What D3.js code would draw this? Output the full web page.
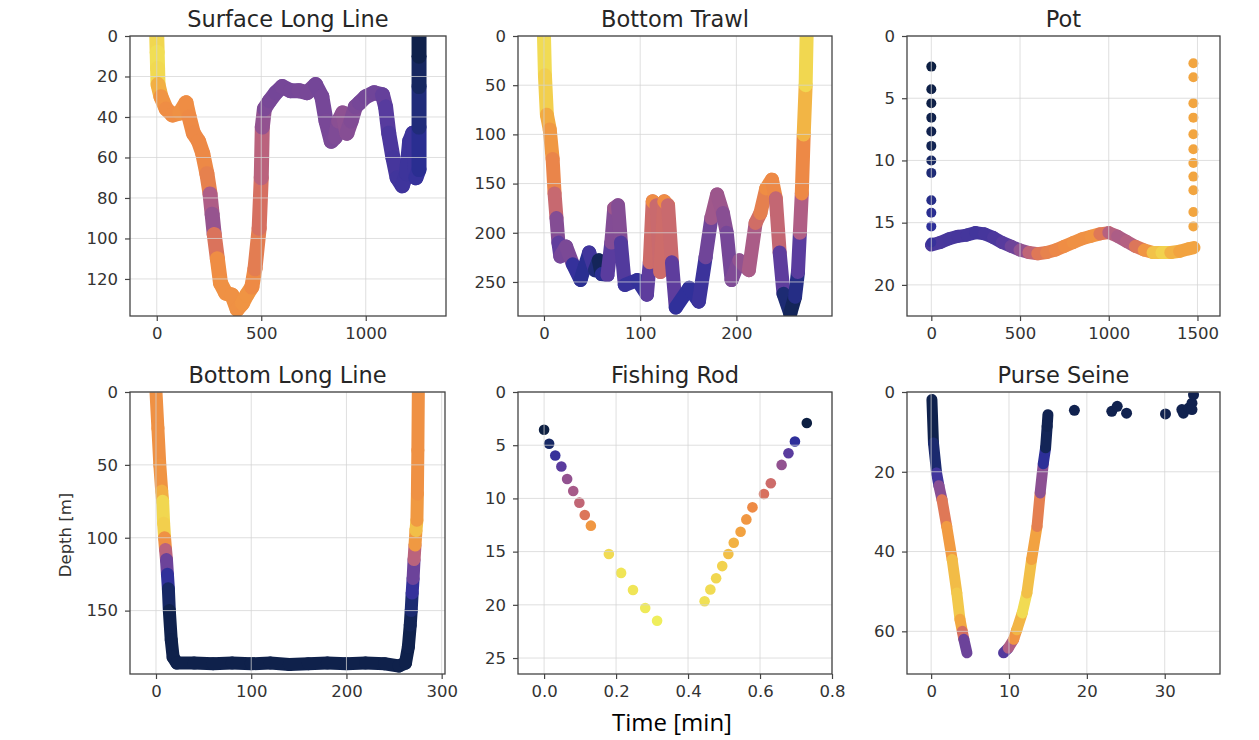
<!DOCTYPE html>
<html>
<head>
<meta charset="utf-8">
<script src="https://cdn.jsdelivr.net/npm/d3@7"></script>
<style>
  body { margin: 0; background: #fff; }
  svg { display: block; }
  .tick text { font-family: "DejaVu Sans", sans-serif; fill: #333; }
</style>
</head>
<body>
<svg id="fig" width="1259" height="740"></svg>
<script>
// ---- data: [time, depth, colour value 0..1] ----

// Surface Long Line
var sllTime  = [0, 2, 4, 6, 20, 45, 75, 110, 140, 155, 175, 200, 220, 240, 255, 265, 275, 290, 305, 330, 360, 385, 410, 430, 455, 470, 490, 500, 505, 515, 540, 570, 600, 640, 680, 720, 760, 790, 810, 835, 855, 870, 890, 910, 930, 950, 970, 1000, 1040, 1080, 1095, 1110, 1130, 1150, 1175, 1195, 1210, 1225, 1240, 1255, 1255, 1255, 1255, 1255];
var sllDepth = [0, 8, 16, 24, 30, 36, 39, 38, 33, 40, 48, 52, 58, 68, 78, 88, 98, 110, 122, 127, 128, 135, 132, 128, 124, 115, 95, 70, 45, 36, 32, 28, 25, 27, 27, 28, 24, 30, 42, 52, 50, 42, 38, 48, 42, 35, 33, 30, 28, 29, 35, 48, 60, 70, 74, 68, 52, 48, 70, 66, 45, 25, 10, 0];
var sllColor = [.93, .95, .96, .93, .82, .8, .78, .8, .8, .78, .78, .77, .78, .77, .72, .42, .6, .78, .8, .8, .8, .8, .8, .82, .8, .76, .7, .65, .55, .45, .44, .42, .42, .43, .42, .44, .42, .42, .43, .44, .44, .46, .5, .48, .46, .45, .43, .42, .42, .4, .36, .32, .3, .28, .27, .27, .26, .26, .27, .22, .18, .12, .06, .02];

// Bottom Trawl
var btTime  = [0, 1, 3, 6, 9, 11, 13, 15, 17, 23, 30, 38, 47, 53, 57, 60, 66, 70, 73, 77, 80, 84, 97, 107, 110, 113, 117, 121, 125, 129, 133, 137, 151, 161, 168, 174, 180, 186, 190, 195, 203, 213, 220, 225, 231, 237, 241, 245, 249, 256, 261, 264, 266, 268, 270, 272, 273];
var btDepth = [0, 40, 80, 95, 125, 160, 185, 210, 224, 214, 232, 248, 220, 238, 228, 242, 243, 210, 175, 172, 210, 253, 248, 263, 230, 168, 172, 240, 168, 172, 230, 276, 256, 270, 225, 185, 161, 180, 200, 248, 228, 238, 190, 180, 155, 146, 165, 220, 262, 282, 265, 240, 200, 160, 100, 50, 0];
var btColor = [.95, .95, .9, .84, .8, .72, .55, .38, .35, .5, .38, .1, .3, .25, .05, .1, .3, .4, .52, .53, .4, .25, .25, .22, .5, .8, .78, .5, .8, .78, .5, .22, .23, .22, .3, .52, .55, .5, .45, .4, .5, .5, .62, .7, .78, .8, .75, .5, .22, .05, .1, .25, .45, .7, .85, .92, .96];

// Pot: descent / ascent columns (single dots) and the bottom band
var potDownTime  = [0, 0, 0, 0, 0, 0, 0, 0, 0, 0, 0, 0];
var potDownDepth = [2.46, 4.28, 5.4, 6.56, 7.68, 8.83, 10.0, 11.0, 13.2, 14.2, 15.3, 16.6];
var potDownColor = [.02, .03, .03, .04, .05, .06, .1, .14, .18, .2, .22, .25];
var potUpTime  = [1477, 1477, 1477, 1477, 1477, 1477, 1477, 1477, 1477, 1477, 1477];
var potUpDepth = [2.19, 3.31, 5.4, 6.56, 7.9, 9.1, 10.2, 11.3, 12.4, 14.15, 15.3];
var potUpColor = [.86, .86, .86, .86, .86, .86, .86, .86, .86, .86, .86];
var potTime  = [0, 50, 100, 150, 200, 250, 300, 350, 400, 450, 500, 550, 600, 650, 700, 750, 800, 850, 900, 950, 1000, 1050, 1100, 1150, 1200, 1250, 1300, 1350, 1400, 1450, 1480];
var potDepth = [16.8, 16.6, 16.3, 16.1, 16.0, 15.8, 15.9, 16.2, 16.6, 16.9, 17.2, 17.4, 17.5, 17.4, 17.2, 16.9, 16.6, 16.3, 16.1, 15.9, 15.8, 16.1, 16.5, 16.9, 17.2, 17.4, 17.4, 17.4, 17.3, 17.1, 17.0];
var potColor = [.3, .3, .3, .29, .29, .28, .28, .3, .32, .36, .45, .55, .68, .74, .76, .78, .8, .8, .8, .82, .6, .58, .55, .62, .78, .85, .96, .9, .86, .85, .86];

// Bottom Long Line
var bllTime  = [0, 2, 4, 6, 7, 8, 9, 10, 11, 12, 13, 14, 16, 18, 22, 40, 60, 80, 100, 120, 140, 160, 180, 200, 220, 240, 255, 262, 265, 267, 268, 269, 270, 271, 272, 273, 274, 274.5, 275, 275.5];
var bllDepth = [0, 25, 50, 68, 75, 90, 100, 108, 115, 125, 135, 150, 170, 182, 186, 186, 186.5, 186, 186.5, 186, 187, 186.5, 186, 186.5, 186, 186.5, 188, 186, 175, 160, 150, 138, 128, 115, 105, 95, 88, 70, 40, 0];
var bllColor = [.8, .8, .8, .82, .93, .95, .9, .7, .5, .3, .15, .05, .04, .04, .04, .04, .04, .04, .04, .04, .04, .04, .04, .04, .04, .04, .04, .04, .04, .05, .08, .18, .3, .5, .7, .95, .85, .8, .8, .8];

// Fishing Rod
var frTime  = [0.000, 0.014, 0.031, 0.048, 0.064, 0.081, 0.098, 0.113, 0.130, 0.180, 0.214, 0.247, 0.281, 0.314, 0.446, 0.462, 0.478, 0.495, 0.512, 0.527, 0.546, 0.562, 0.579, 0.611, 0.630, 0.660, 0.679, 0.697, 0.730];
var frDepth = [3.55, 4.87, 5.97, 7.0, 8.17, 9.3, 10.4, 11.56, 12.56, 15.23, 17.0, 18.6, 20.3, 21.5, 19.66, 18.56, 17.5, 16.36, 15.23, 14.16, 13.13, 11.97, 10.84, 9.58, 8.57, 6.85, 5.75, 4.65, 2.92];
var frColor = [.02, .1, .25, .35, .5, .55, .62, .7, .82, .95, .97, .97, .98, .99, .96, .95, .94, .93, .9, .88, .85, .82, .78, .68, .65, .5, .35, .22, .02];

// Purse Seine: the two strips and the single surface dots
var psDownTime  = [0.1, 0.3, 0.7, 1.0, 1.4, 2.0, 2.7, 3.3, 3.7, 4.0, 4.2, 4.6];
var psDownDepth = [1.9, 12.8, 20.3, 23.5, 27, 33.7, 42, 50.4, 57, 60, 62, 65.4];
var psDownColor = [.04, .05, .2, .35, .6, .82, .84, .95, .88, .85, .5, .3];
var psUpTime  = [9.3, 9.9, 10.6, 11.0, 11.7, 12.3, 12.9, 13.6, 14.0, 14.4, 14.7, 14.9, 15.0];
var psUpDepth = [65.4, 64.2, 62, 59.6, 55.4, 50.4, 42, 33.7, 25.3, 18, 14, 8.6, 5.7];
var psUpColor = [.3, .35, .8, .82, .95, .95, .85, .85, .62, .35, .08, .06, .05];
var psDotTime  = [18.4, 23.2, 23.9, 25.1, 30.1, 32.2, 32.4, 33.1, 33.5, 33.7, 33.5];
var psDotDepth = [4.6, 4.85, 3.6, 5.3, 5.5, 4.4, 5.3, 4.0, 2.8, 0.7, 4.4];
var psDotColor = [.05, .05, .05, .05, .05, .05, .05, .05, .05, .05, .05];

// axis limits and tick values
var sllXTicks = [0, 500, 1000],            sllYTicks = [0, 20, 40, 60, 80, 100, 120];
var btXTicks  = [0, 100, 200],             btYTicks  = [0, 50, 100, 150, 200, 250];
var potXTicks = [0, 500, 1000, 1500],      potYTicks = [0, 5, 10, 15, 20];
var bllXTicks = [0, 100, 200, 300],        bllYTicks = [0, 50, 100, 150];
var frXTicks  = [0, 0.2, 0.4, 0.6, 0.8],   frYTicks  = [0, 5, 10, 15, 20, 25];
var psXTicks  = [0, 10, 20, 30],           psYTicks  = [0, 20, 40, 60];

// colour map (thermal-like)
var cmapStops  = [0, 0.12, 0.22, 0.35, 0.48, 0.58, 0.68, 0.78, 0.86, 0.93, 1];
var cmapColors = ["#0a1d3a", "#1a2a6c", "#2e2f9a", "#5a3c9e", "#8a4f93", "#b25f84", "#d8715f", "#ee8a45", "#f2a540", "#f2d24e", "#eef35e"];
var cmap = d3.scaleLinear().domain(cmapStops).range(cmapColors).interpolate(d3.interpolateRgb);

function zip(t, d, c) {
	return t.map(function(v, i) { return [v, d[i], c[i]]; });
}

var svg = d3.select("#fig");

function panel(opts) {
	var x = d3.scaleLinear().domain(opts.xlim).range([opts.left, opts.right]);
	var y = d3.scaleLinear().domain(opts.ylim).range([opts.top, opts.bottom]);
	var g = svg.append("g");
	var clipId = "clip" + opts.id;
	g.append("clipPath").attr("id", clipId)
		.append("rect")
		.attr("x", opts.left).attr("y", opts.top)
		.attr("width", opts.right - opts.left).attr("height", opts.bottom - opts.top);

	var plot = g.append("g").attr("clip-path", "url(#" + clipId + ")");

	// dense scatter tracks drawn as thick round-capped segments
	(opts.strips || []).forEach(function(pts) {
		plot.append("g").selectAll("line")
			.data(d3.pairs(pts))
			.enter().append("line")
				.attr("x1", function(p) { return x(p[0][0]); })
				.attr("y1", function(p) { return y(p[0][1]); })
				.attr("x2", function(p) { return x(p[1][0]); })
				.attr("y2", function(p) { return y(p[1][1]); })
				.attr("stroke", function(p) { return cmap((p[0][2] + p[1][2]) / 2); })
				.attr("stroke-width", opts.width || 12)
				.attr("stroke-linecap", "round");
	});
	(opts.dots || []).forEach(function(pts) {
		plot.append("g").selectAll("circle")
			.data(pts)
			.enter().append("circle")
				.attr("cx", function(d) { return x(d[0]); })
				.attr("cy", function(d) { return y(d[1]); })
				.attr("r", opts.r || 5)
				.attr("fill", function(d) { return cmap(d[2]); });
	});

	// grid over the data, faint
	var grid = g.append("g").attr("stroke", "#d4d4d4").attr("stroke-opacity", 0.75).attr("stroke-width", 1);
	grid.selectAll(".gx").data(opts.xticks).enter().append("line")
		.attr("x1", function(d) { return x(d); }).attr("x2", function(d) { return x(d); })
		.attr("y1", opts.top).attr("y2", opts.bottom);
	grid.selectAll(".gy").data(opts.yticks).enter().append("line")
		.attr("y1", function(d) { return y(d); }).attr("y2", function(d) { return y(d); })
		.attr("x1", opts.left).attr("x2", opts.right);

	// axes
	var xAxis = g.append("g")
		.attr("transform", "translate(0," + opts.bottom + ")")
		.call(d3.axisBottom(x).tickValues(opts.xticks).tickFormat(opts.xfmt || d3.format("d")).tickSize(5).tickPadding(6));
	var yAxis = g.append("g")
		.attr("transform", "translate(" + opts.left + ",0)")
		.call(d3.axisLeft(y).tickValues(opts.yticks).tickFormat(d3.format("d")).tickSize(5).tickPadding(7));
	[xAxis, yAxis].forEach(function(a) {
		a.select(".domain").remove();
		a.selectAll(".tick line").attr("stroke", "#444").attr("stroke-width", 1.2);
		a.selectAll(".tick text").attr("font-size", 16.5);
	});

	// frame
	g.append("rect")
		.attr("x", opts.left).attr("y", opts.top)
		.attr("width", opts.right - opts.left).attr("height", opts.bottom - opts.top)
		.attr("fill", "none").attr("stroke", "#444").attr("stroke-width", 1.3);

	g.append("text")
		.attr("x", (opts.left + opts.right) / 2)
		.attr("y", opts.top - 9)
		.attr("text-anchor", "middle")
		.attr("font-family", "DejaVu Sans, sans-serif")
		.attr("font-size", 22.5)
		.attr("fill", "#262626")
		.text(opts.title);
}

panel({ id: 1, title: "Surface Long Line", left: 130, right: 446, top: 36, bottom: 316,
	xlim: [-128, 1384], ylim: [0, 138.3], xticks: sllXTicks, yticks: sllYTicks,
	strips: [zip(sllTime, sllDepth, sllColor)], width: 15 });

panel({ id: 2, title: "Bottom Trawl", left: 518, right: 832, top: 36, bottom: 316,
	xlim: [-27, 299.4], ylim: [0, 284.6], xticks: btXTicks, yticks: btYTicks,
	strips: [zip(btTime, btDepth, btColor)], width: 14 });

panel({ id: 3, title: "Pot", left: 907, right: 1220, top: 36, bottom: 316,
	xlim: [-137, 1627], ylim: [0, 22.5], xticks: potXTicks, yticks: potYTicks,
	strips: [zip(potTime, potDepth, potColor)], width: 13,
	dots: [zip(potDownTime, potDownDepth, potDownColor), zip(potUpTime, potUpDepth, potUpColor)], r: 5 });

panel({ id: 4, title: "Bottom Long Line", left: 130, right: 445, top: 392, bottom: 674,
	xlim: [-27.3, 303.5], ylim: [0, 193.5], xticks: bllXTicks, yticks: bllYTicks,
	strips: [zip(bllTime, bllDepth, bllColor)], width: 13 });

panel({ id: 5, title: "Fishing Rod", left: 518, right: 832, top: 392, bottom: 674,
	xlim: [-0.0725, 0.8], ylim: [0, 26.5], xticks: frXTicks, yticks: frYTicks, xfmt: d3.format(".1f"),
	dots: [zip(frTime, frDepth, frColor)], r: 5.3 });

panel({ id: 6, title: "Purse Seine", left: 907, right: 1220, top: 392, bottom: 674,
	xlim: [-3.1, 37.1], ylim: [0, 70.7], xticks: psXTicks, yticks: psYTicks,
	strips: [zip(psDownTime, psDownDepth, psDownColor), zip(psUpTime, psUpDepth, psUpColor)], width: 11,
	dots: [zip(psDotTime, psDotDepth, psDotColor)], r: 5.5 });

// shared labels
svg.append("text")
	.attr("transform", "translate(71,535) rotate(-90)")
	.attr("text-anchor", "middle")
	.attr("font-family", "DejaVu Sans, sans-serif")
	.attr("font-size", 16.5)
	.attr("fill", "#333")
	.text("Depth [m]");

svg.append("text")
	.attr("x", 672).attr("y", 731)
	.attr("text-anchor", "middle")
	.attr("font-family", "Open Sans, sans-serif")
	.attr("font-size", 24)
	.attr("fill", "#000")
	.text("Time [min]");
</script>
</body>
</html>
